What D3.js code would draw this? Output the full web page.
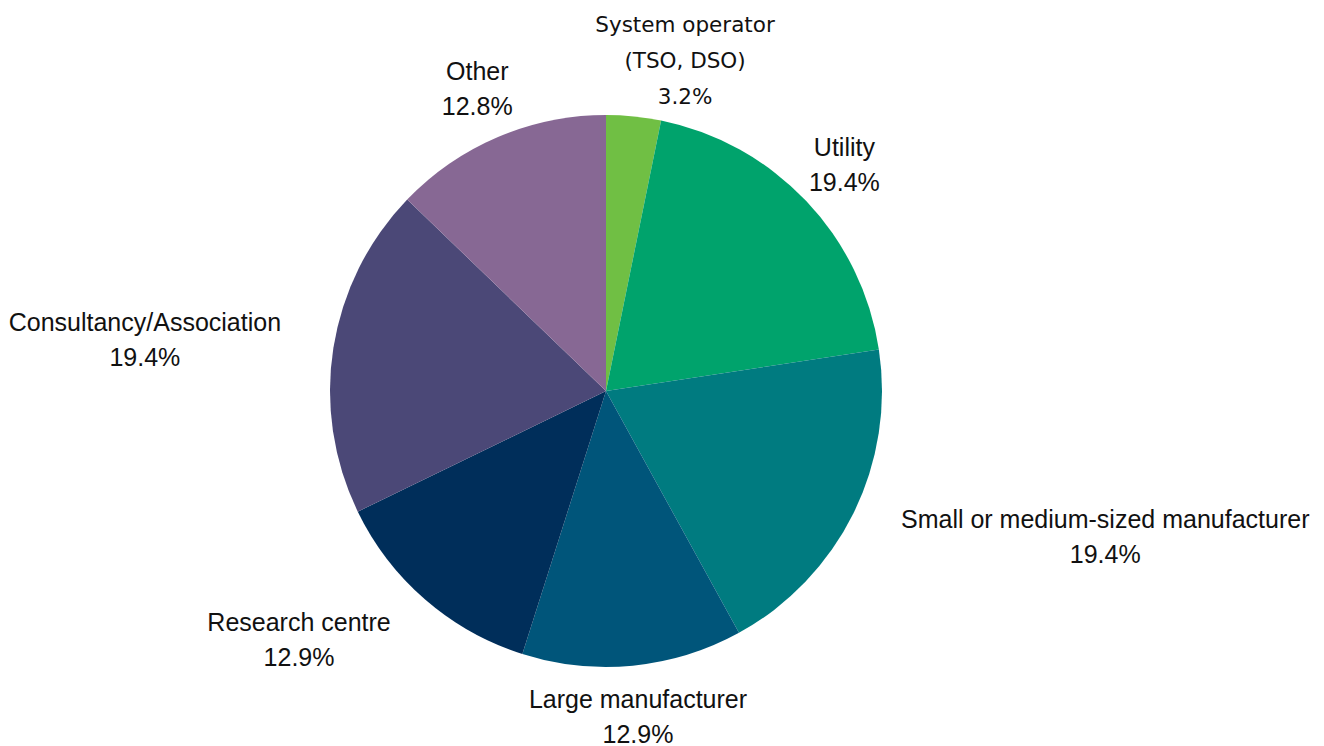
<!DOCTYPE html>
<html>
<head>
<meta charset="utf-8">
<script src="https://cdn.jsdelivr.net/npm/d3@7"></script>
<style>
  html, body { margin: 0; padding: 0; background: #fff; }
  svg { display: block; }
</style>
</head>
<body>
<svg id="chart" width="1324" height="746"></svg>
<script>
// Respondent types and their shares (%)
const categories = [
  ["System operator", "(TSO, DSO)"],
  ["Utility"],
  ["Small or medium-sized manufacturer"],
  ["Large manufacturer"],
  ["Research centre"],
  ["Consultancy/Association"],
  ["Other"]
];
const shares = [3.2, 19.4, 19.4, 12.9, 12.9, 19.4, 12.8];
const colors = ["#70bf44", "#00a36c", "#007b80", "#00557a", "#002e5a", "#4b4877", "#876894"];

// Label layout: which edge of the label block meets the mid-angle ray, plus small nudges
const labelAnchor = ["middle", "middle", "start", "middle", "end", "end", "middle"];
const labelNudge = [[46, -3], [0, 0], [0, 0], [0, -1.5], [0, 0], [0, 0], [0, 0]];

const svg = d3.select("#chart");
const cx = 606, cy = 391, radius = 276, labelRadius = 329;

const pie = d3.pie().sort(null).value(d => d);
const arcs = pie(shares);
const arc = d3.arc().innerRadius(0).outerRadius(radius);

const g = svg.append("g").attr("transform", `translate(${cx},${cy})`);

g.selectAll("path.slice")
  .data(arcs)
  .join("path")
  .attr("class", "slice")
  .attr("d", arc)
  .attr("fill", (d, i) => colors[i]);

// Labels sit on each slice's mid-angle ray; lines are centred within their block
arcs.forEach((d, i) => {
  const mid = (d.startAngle + d.endAngle) / 2;
  const px = labelRadius * Math.sin(mid) + labelNudge[i][0];
  const py = -labelRadius * Math.cos(mid) + labelNudge[i][1];
  const isOperator = i === 0;
  const lines = categories[i].concat([d3.format(".1f")(shares[i]) + "%"]);
  const lineH = isOperator ? 36 : 35;
  const fontSize = isOperator ? 21.5 : 25;
  const capOffset = fontSize * (isOperator ? 0.34 : 0.358);
  const top = py - (lines.length - 1) * lineH / 2;
  const t = g.append("text")
    .attr("text-anchor", "middle")
    .attr("font-family", isOperator ? "'DejaVu Sans', sans-serif" : "'Liberation Sans', Arial, sans-serif")
    .attr("font-size", fontSize)
    .attr("fill", "#111");
  const spans = lines.map((s, k) => t.append("tspan")
    .attr("y", top + k * lineH + capOffset)
    .text(s));
  const w = d3.max(spans, s => s.node().getComputedTextLength());
  const shift = labelAnchor[i] === "start" ? w / 2 : labelAnchor[i] === "end" ? -w / 2 : 0;
  spans.forEach(s => s.attr("x", px + shift));
});
</script>
</body>
</html>
